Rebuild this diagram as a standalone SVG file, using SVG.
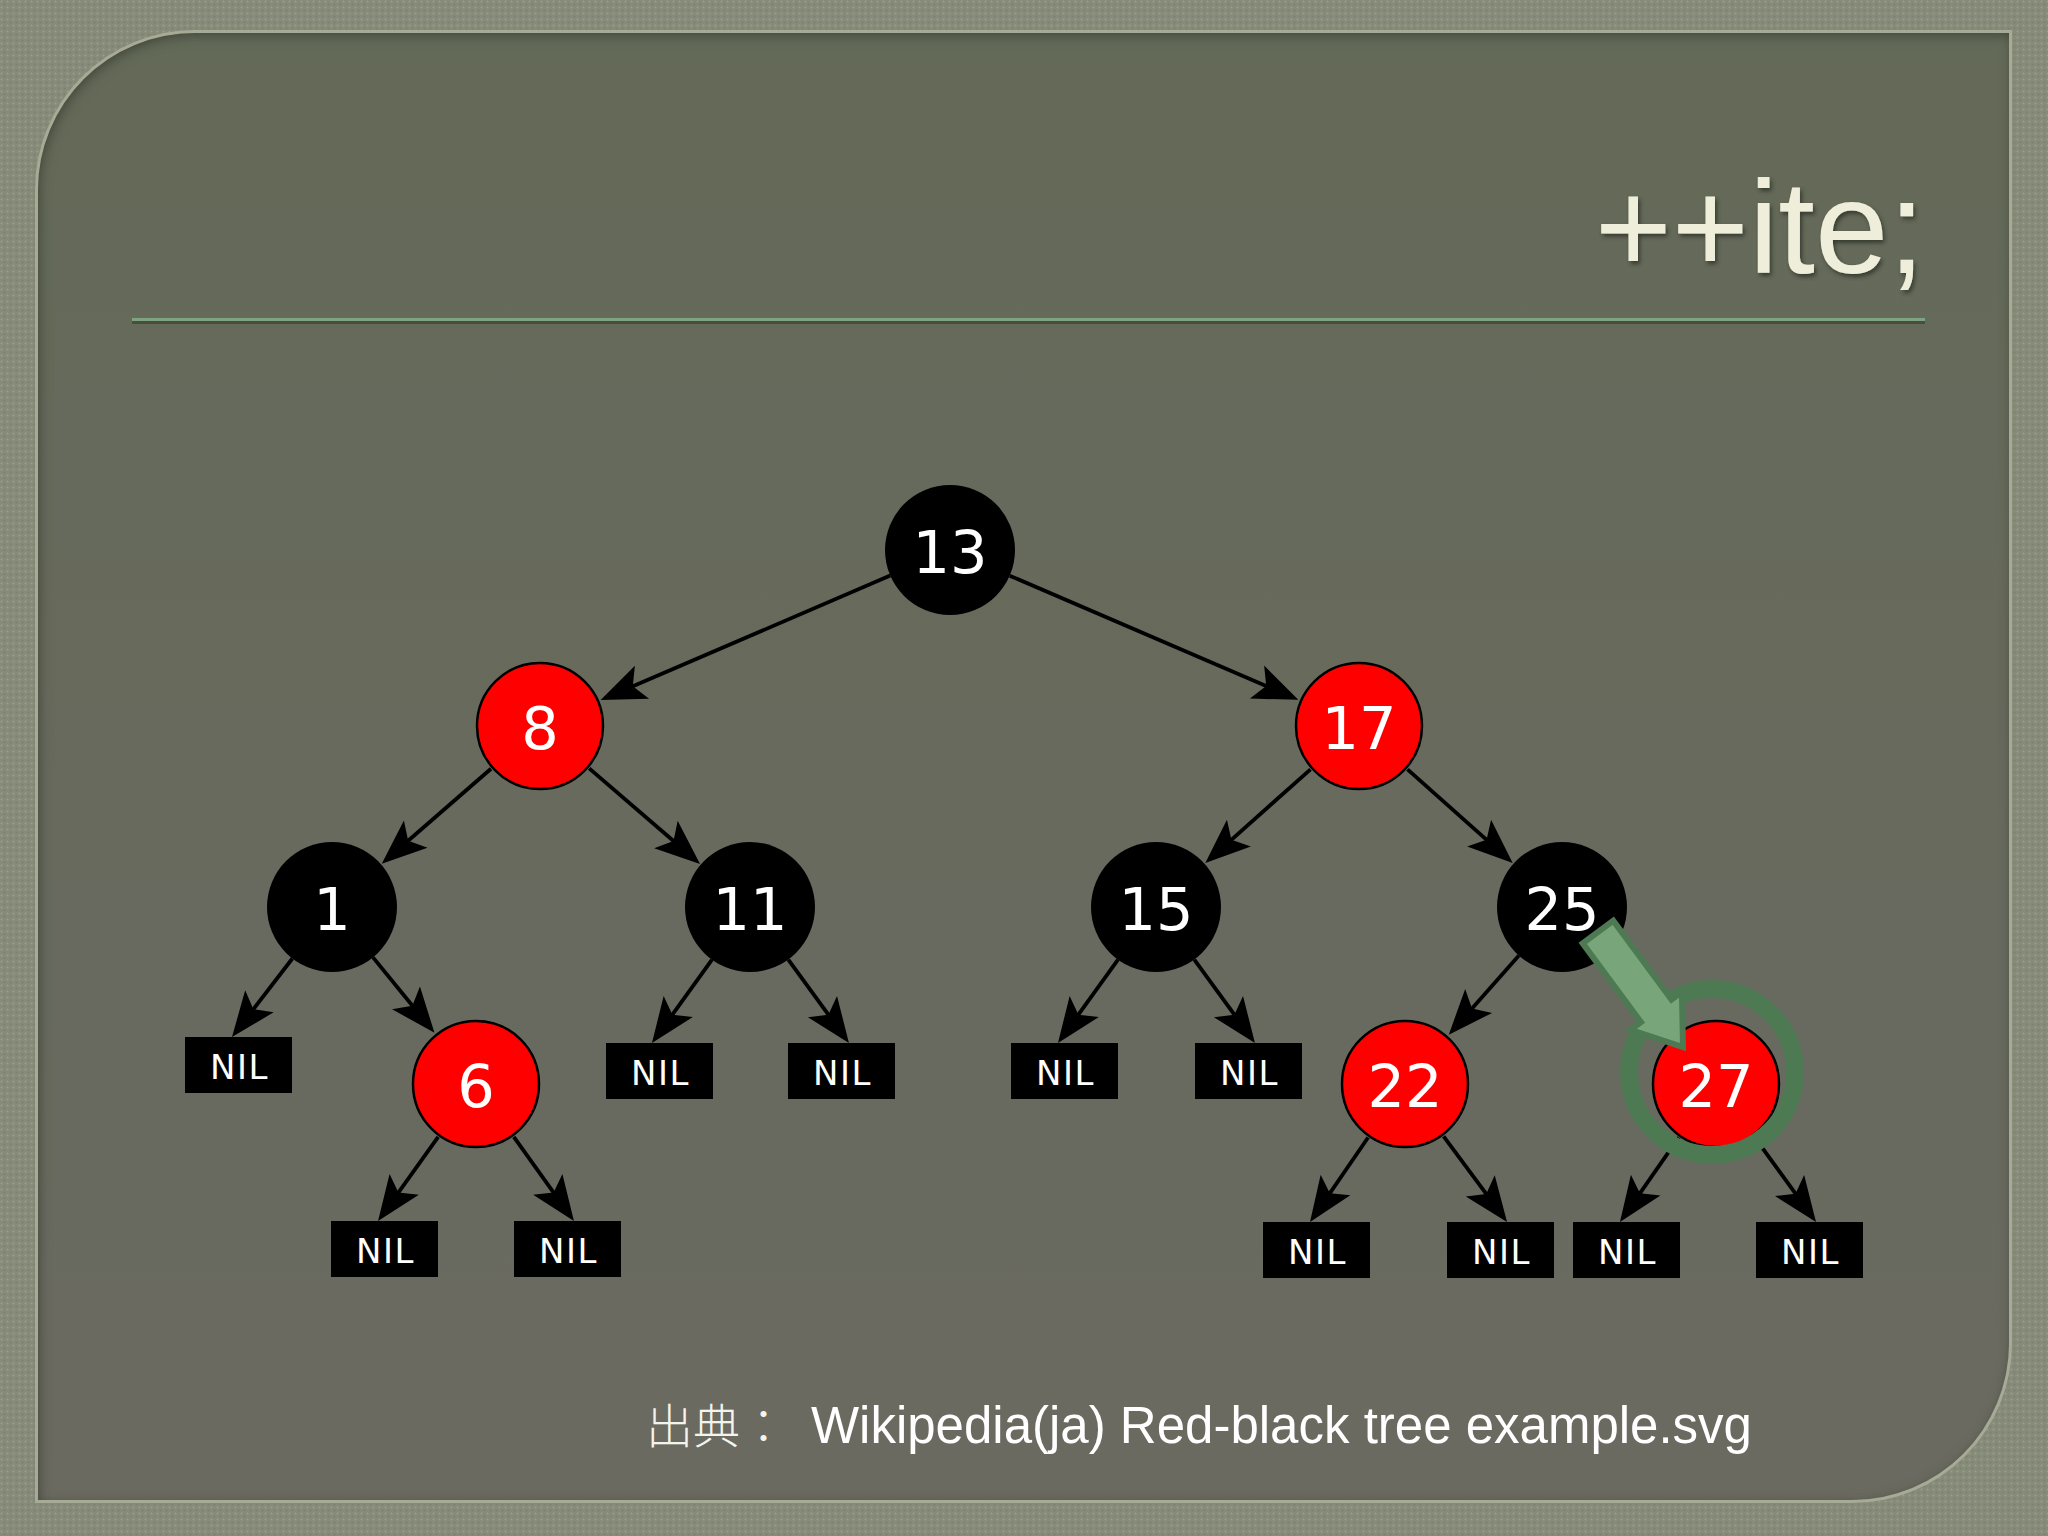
<svg xmlns="http://www.w3.org/2000/svg" width="2048" height="1536" viewBox="0 0 2048 1536">
  <defs>
    <pattern id="tex" width="6" height="6" patternUnits="userSpaceOnUse">
      <rect width="6" height="6" fill="#878b79"/>
      <circle cx="1.5" cy="1.5" r="1" fill="#9a9e8b"/>
      <circle cx="4.5" cy="4.5" r="1" fill="#7c806f"/>
    </pattern>
    <linearGradient id="panelGrad" x1="0" y1="0" x2="0" y2="1">
      <stop offset="0" stop-color="#646a58"/>
      <stop offset="1" stop-color="#6a6a61"/>
    </linearGradient>
    <filter id="inner" x="-5%" y="-5%" width="110%" height="110%">
      <feComponentTransfer in="SourceAlpha"><feFuncA type="table" tableValues="1 0"/></feComponentTransfer>
      <feGaussianBlur stdDeviation="6"/>
      <feOffset dx="2" dy="3" result="off"/>
      <feFlood flood-color="#2f3229" flood-opacity="0.75"/>
      <feComposite in2="off" operator="in"/>
      <feComposite in2="SourceAlpha" operator="in" result="sh"/>
      <feMerge><feMergeNode in="SourceGraphic"/><feMergeNode in="sh"/></feMerge>
    </filter>
    <filter id="emboss" x="-10%" y="-20%" width="120%" height="140%">
      <feDropShadow dx="2" dy="3" stdDeviation="2" flood-color="#2c2f26" flood-opacity="0.8"/>
    </filter>
    <marker id="ah" viewBox="-20 -22 55 44" markerWidth="55" markerHeight="44" refX="0" refY="0" orient="auto" markerUnits="userSpaceOnUse">
      <path d="M30,0 L-15,-18 L-5,0 L-15,18 Z" fill="#000"/>
    </marker>
    <style>
      .edge { stroke:#000; stroke-width:3.8; fill:none; marker-end:url(#ah); }
      .red { fill:#ff0000; stroke:#000; stroke-width:2.5; }
      .blk { fill:#000; }
      .num { font-family:"DejaVu Sans", sans-serif; font-size:59px; fill:#fff; text-anchor:middle; }
      .nilbox { fill:#000; }
      .nil { font-family:"DejaVu Sans", sans-serif; font-size:34px; fill:#fff; text-anchor:middle; letter-spacing:1.5px; }
    </style>
  </defs>

  <!-- background -->
  <rect width="2048" height="1536" fill="url(#tex)"/>
  <g id="panel">
    <path d="M195,33 H2009 V1343 A157,157 0 0 1 1852,1500 H38 V190 A157,157 0 0 1 195,33 Z" fill="none" stroke="#a6ab96" stroke-width="6"/>
    <path d="M195,33 H2009 V1343 A157,157 0 0 1 1852,1500 H38 V190 A157,157 0 0 1 195,33 Z" fill="url(#panelGrad)" filter="url(#inner)"/>
  </g>

  <g id="title">
    <text x="1925" y="273" font-family="Liberation Sans, Arial, sans-serif" font-size="132" fill="#eeeedb" text-anchor="end" filter="url(#emboss)">++ite;</text>
    <rect x="132" y="318" width="1793" height="3" fill="#7ca480"/>
    <rect x="132" y="321" width="1793" height="3" fill="#4b4b40"/>
  </g>

  <g id="connectors">
    <line class="edge" x1="890.3" y1="575.6" x2="628.2" y2="688.2"/>
    <line class="edge" x1="1009.7" y1="575.7" x2="1270.8" y2="688.0"/>
    <line class="edge" x1="491.0" y1="768.7" x2="404.4" y2="844.0"/>
    <line class="edge" x1="589.2" y1="768.4" x2="677.3" y2="844.3"/>
    <line class="edge" x1="1310.5" y1="769.3" x2="1227.7" y2="843.1"/>
    <line class="edge" x1="1407.5" y1="769.3" x2="1490.3" y2="843.1"/>
    <line class="edge" x1="373.0" y1="957.4" x2="415.5" y2="1009.5"/>
    <line class="edge" x1="1518.9" y1="955.6" x2="1468.7" y2="1012.2"/>
    <line class="edge" x1="1604.7" y1="956.0" x2="1653.0" y2="1011.6"/>
    <line class="edge" x1="292.4" y1="958.5" x2="250.3" y2="1013.2"/>
    <line class="edge" x1="438.2" y1="1136.9" x2="395.5" y2="1196.6"/>
    <line class="edge" x1="513.8" y1="1136.9" x2="556.5" y2="1196.6"/>
    <line class="edge" x1="712.0" y1="959.7" x2="669.5" y2="1018.7"/>
    <line class="edge" x1="788.3" y1="959.6" x2="831.3" y2="1018.7"/>
    <line class="edge" x1="1118.0" y1="959.7" x2="1075.5" y2="1018.7"/>
    <line class="edge" x1="1194.3" y1="959.6" x2="1237.3" y2="1018.7"/>
    <line class="edge" x1="1368.1" y1="1137.5" x2="1327.0" y2="1197.3"/>
    <line class="edge" x1="1443.6" y1="1136.3" x2="1489.2" y2="1197.9"/>
    <line class="edge" x1="1678.9" y1="1137.4" x2="1637.1" y2="1197.4"/>
    <line class="edge" x1="1754.1" y1="1136.6" x2="1798.4" y2="1197.7"/>
  </g>

  <g id="node-13"><circle class="blk" cx="950" cy="550" r="65"/><text class="num" x="950" y="573">13</text></g>
  <g id="node-8"><circle class="red" cx="540" cy="726" r="63"/><text class="num" x="540" y="749">8</text></g>
  <g id="node-17"><circle class="red" cx="1359" cy="726" r="63"/><text class="num" x="1359" y="749">17</text></g>
  <g id="node-1"><circle class="blk" cx="332" cy="907" r="65"/><text class="num" x="332" y="930">1</text></g>
  <g id="node-11"><circle class="blk" cx="750" cy="907" r="65"/><text class="num" x="750" y="930">11</text></g>
  <g id="node-15"><circle class="blk" cx="1156" cy="907" r="65"/><text class="num" x="1156" y="930">15</text></g>
  <g id="node-25"><circle class="blk" cx="1562" cy="907" r="65"/><text class="num" x="1562" y="930">25</text></g>
  <g id="node-6"><circle class="red" cx="476" cy="1084" r="63"/><text class="num" x="476" y="1107">6</text></g>
  <g id="node-22"><circle class="red" cx="1405" cy="1084" r="63"/><text class="num" x="1405" y="1107">22</text></g>
  <g id="node-27"><circle class="red" cx="1716" cy="1084" r="63"/><text class="num" x="1716" y="1107">27</text></g>

  <g id="nil-1L"><rect class="nilbox" x="185" y="1037" width="107" height="56"/><text class="nil" x="239.5" y="1079">NIL</text></g>
  <g id="nil-6L"><rect class="nilbox" x="331" y="1221" width="107" height="56"/><text class="nil" x="385.5" y="1263">NIL</text></g>
  <g id="nil-6R"><rect class="nilbox" x="514" y="1221" width="107" height="56"/><text class="nil" x="568.5" y="1263">NIL</text></g>
  <g id="nil-11L"><rect class="nilbox" x="606" y="1043" width="107" height="56"/><text class="nil" x="660.5" y="1085">NIL</text></g>
  <g id="nil-11R"><rect class="nilbox" x="788" y="1043" width="107" height="56"/><text class="nil" x="842.5" y="1085">NIL</text></g>
  <g id="nil-15L"><rect class="nilbox" x="1011" y="1043" width="107" height="56"/><text class="nil" x="1065.5" y="1085">NIL</text></g>
  <g id="nil-15R"><rect class="nilbox" x="1195" y="1043" width="107" height="56"/><text class="nil" x="1249.5" y="1085">NIL</text></g>
  <g id="nil-22L"><rect class="nilbox" x="1263" y="1222" width="107" height="56"/><text class="nil" x="1317.5" y="1264">NIL</text></g>
  <g id="nil-22R"><rect class="nilbox" x="1447" y="1222" width="107" height="56"/><text class="nil" x="1501.5" y="1264">NIL</text></g>
  <g id="nil-27L"><rect class="nilbox" x="1573" y="1222" width="107" height="56"/><text class="nil" x="1627.5" y="1264">NIL</text></g>
  <g id="nil-27R"><rect class="nilbox" x="1756" y="1222" width="107" height="56"/><text class="nil" x="1810.5" y="1264">NIL</text></g>

  <g id="highlight">
    <circle cx="1712" cy="1072" r="83" fill="none" stroke="#4e7a53" stroke-width="18"/>
    <polygon points="1613.3,920.7 1671.5,999.5 1681.9,991.8 1683,1047 1630.5,1029.8 1640.9,1022.1 1582.7,943.3" fill="#78a67a" stroke="#4e7a53" stroke-width="6" stroke-linejoin="miter"/>
  </g>

  <g id="caption">
    <text x="646" y="1443" font-family="Noto Sans CJK JP, sans-serif" font-weight="300" font-size="47" fill="#f4f4ee">出典：</text>
    <text x="1752" y="1443" font-family="Liberation Sans, Arial, sans-serif" font-size="51" fill="#ffffff" text-anchor="end">Wikipedia(ja) Red-black tree example.svg</text>
  </g>
</svg>
